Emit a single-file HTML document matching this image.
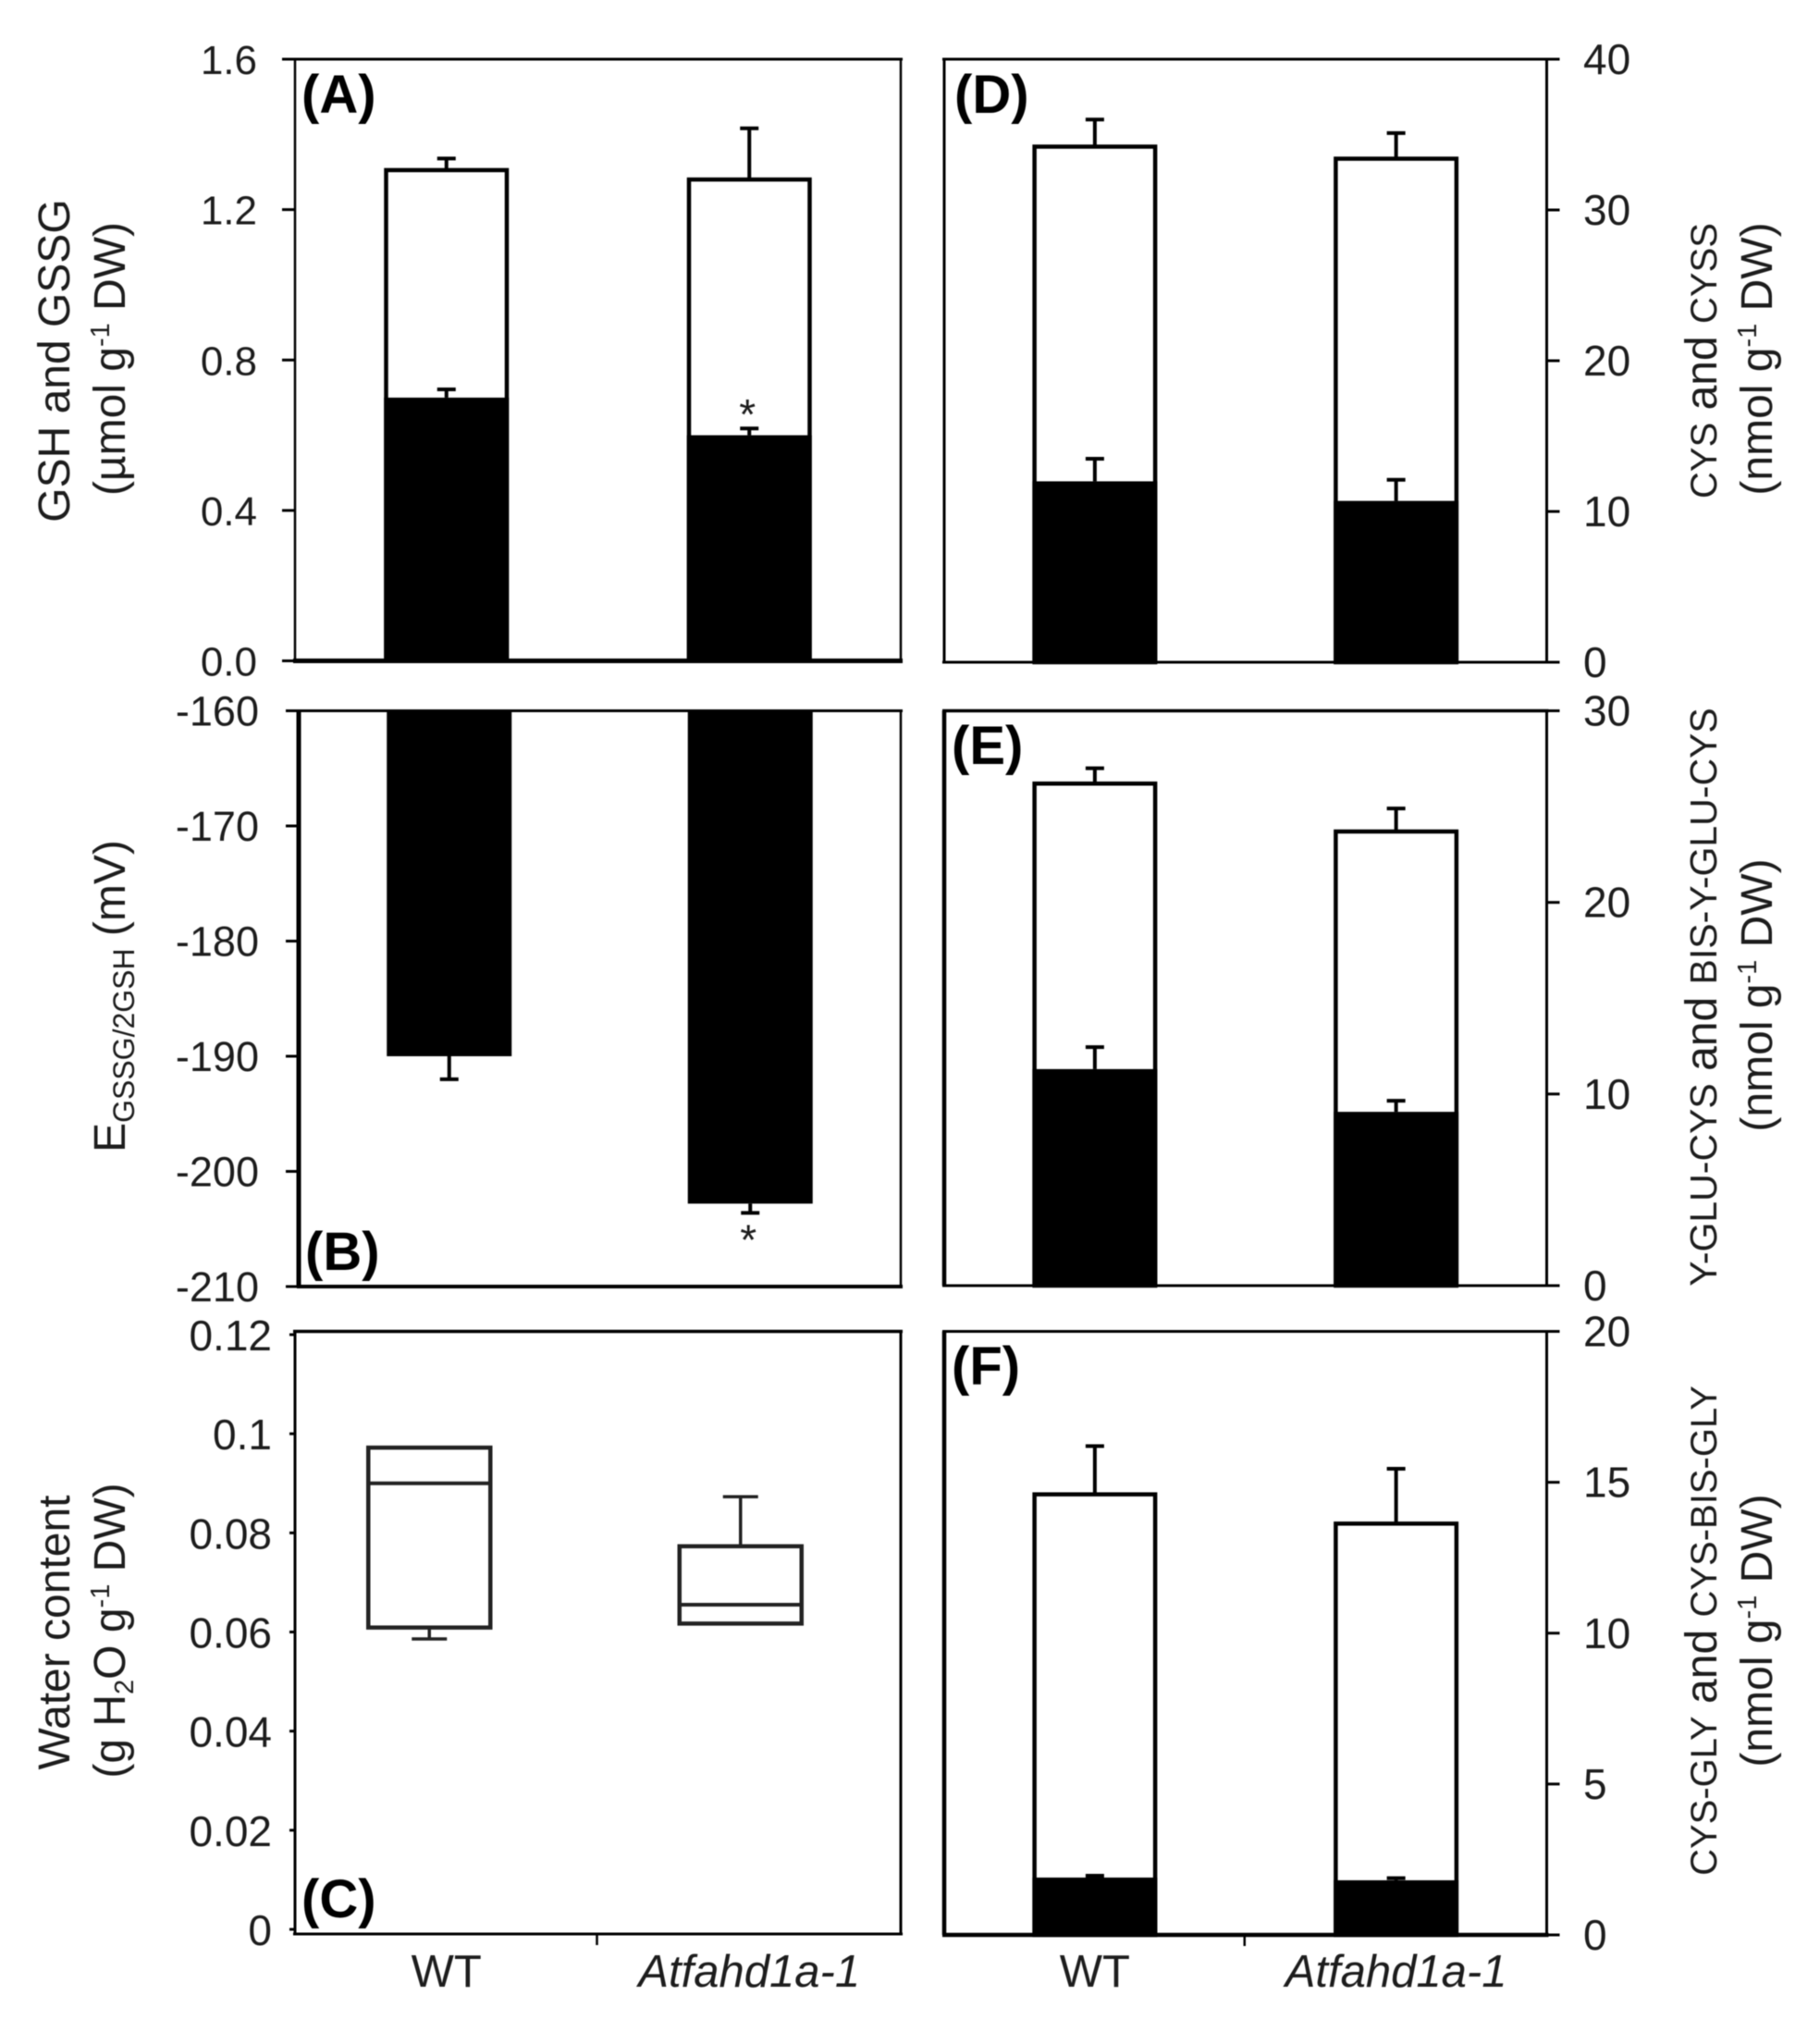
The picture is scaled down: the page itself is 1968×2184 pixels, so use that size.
<!DOCTYPE html>
<html lang="en">
<head>
<meta charset="utf-8">
<title>Thiol metabolites and water content in WT and Atfahd1a-1</title>
<style>
  html, body { margin: 0; padding: 0; background: #fff; }
  body { width: 1968px; height: 2184px; overflow: hidden; }
  svg { display: block; filter: blur(0.6px); }
  text { font-family: "Liberation Sans", sans-serif; fill: #1c1c1c; }
  .title { font-size: 48px; text-anchor: middle; }
  .letter { font-size: 58px; font-weight: bold; fill: #000; }
</style>
</head>
<body>
<svg id="figure" xmlns="http://www.w3.org/2000/svg" width="1968" height="2184" viewBox="0 0 1968 2184">
  <rect x="0" y="0" width="1968" height="2184" fill="#fff"/>
  <g id="panel-a"></g>
  <g id="panel-b"></g>
  <g id="panel-c"></g>
  <g id="panel-d"></g>
  <g id="panel-e"></g>
  <g id="panel-f"></g>

  <text class="letter" x="326" y="122">(A)</text>
  <text class="letter" x="330" y="1373">(B)</text>
  <text class="letter" x="326" y="2073">(C)</text>
  <text class="letter" x="1032" y="122">(D)</text>
  <text class="letter" x="1029" y="826">(E)</text>
  <text class="letter" x="1029" y="1497">(F)</text>

  <text class="title" transform="translate(75,390) rotate(-90)">GSH and GSSG</text>
  <text class="title" transform="translate(135,388) rotate(-90)">(µmol g<tspan font-size="29" dy="-17">-1</tspan><tspan dy="17"> DW)</tspan></text>
  <text class="title" transform="translate(135,1077) rotate(-90)">E<tspan font-size="32" dy="10">GSSG/2GSH</tspan><tspan dy="-10"> (mV)</tspan></text>
  <text class="title" transform="translate(75,1765) rotate(-90)">Water content</text>
  <text class="title" transform="translate(135,1763) rotate(-90)">(g H<tspan font-size="29" dy="9">2</tspan><tspan dy="-9">O g</tspan><tspan font-size="29" dy="-17">-1</tspan><tspan dy="17"> DW)</tspan></text>

  <text class="title" transform="translate(1856,390) rotate(-90)"><tspan font-size="40">CYS</tspan> and <tspan font-size="40">CYSS</tspan></text>
  <text class="title" transform="translate(1916,388) rotate(-90)">(nmol g<tspan font-size="29" dy="-17">-1</tspan><tspan dy="17"> DW)</tspan></text>
  <text class="title" transform="translate(1856,1078) rotate(-90)"><tspan font-size="41">Y-GLU-CYS</tspan> and <tspan font-size="41">BIS-Y-GLU-CYS</tspan></text>
  <text class="title" transform="translate(1916,1076) rotate(-90)">(nmol g<tspan font-size="29" dy="-17">-1</tspan><tspan dy="17"> DW)</tspan></text>
  <text class="title" transform="translate(1856,1763) rotate(-90)"><tspan font-size="40">CYS-GLY</tspan> and <tspan font-size="40">CYS-BIS-GLY</tspan></text>
  <text class="title" transform="translate(1916,1763) rotate(-90)">(nmol g<tspan font-size="29" dy="-17">-1</tspan><tspan dy="17"> DW)</tspan></text>
</svg>

<script>
// ---- Data ----
const categories = ['WT', 'Atfahd1a-1'];

const panelATicks = [0, 0.4, 0.8, 1.2, 1.6];
const panelATickLabels = ['0.0', '0.4', '0.8', '1.2', '1.6'];
const panelABlack = [0.70, 0.60];
const panelABlackErr = [0.022, 0.018];
const panelATotal = [1.305, 1.28];
const panelATotalErr = [0.031, 0.136];

const panelBTicks = [-160, -170, -180, -190, -200, -210];
const panelBTickLabels = ['-160', '-170', '-180', '-190', '-200', '-210'];
const panelBValues = [-190, -202.8];
const panelBErr = [2, 0.8];

const panelCTicks = [0, 0.02, 0.04, 0.06, 0.08, 0.1, 0.12];
const panelCTickLabels = ['0', '0.02', '0.04', '0.06', '0.08', '0.1', '0.12'];
const panelCBoxLow = [0.0609, 0.0617];
const panelCBoxMedian = [0.090, 0.0655];
const panelCBoxHigh = [0.0972, 0.0773];
const panelCWhiskerLow = [0.0586, 0.0617];
const panelCWhiskerHigh = [0.0972, 0.0873];

const panelDTicks = [0, 10, 20, 30, 40];
const panelDTickLabels = ['0', '10', '20', '30', '40'];
const panelDBlack = [12.0, 10.7];
const panelDBlackErr = [1.5, 1.4];
const panelDTotal = [34.2, 33.4];
const panelDTotalErr = [1.8, 1.7];

const panelETicks = [0, 10, 20, 30];
const panelETickLabels = ['0', '10', '20', '30'];
const panelEBlack = [11.3, 9.07];
const panelEBlackErr = [1.15, 0.58];
const panelETotal = [26.2, 23.7];
const panelETotalErr = [0.8, 1.2];

const panelFTicks = [0, 5, 10, 15, 20];
const panelFTickLabels = ['0', '5', '10', '15', '20'];
const panelFBlack = [1.9, 1.81];
const panelFBlackErr = [0.06, 0.07];
const panelFTotal = [14.6, 13.63];
const panelFTotalErr = [1.6, 1.82];

// ---- Layout ----
const NS = 'http://www.w3.org/2000/svg';
const BAR_WIDTH = 135;
const OUTLINE = 4.5;
const CAP = 10;
const INK = '#000';

function node(tag, attrs, parent) {
  const el = document.createElementNS(NS, tag);
  for (const k in attrs) el.setAttribute(k, attrs[k]);
  parent.appendChild(el);
  return el;
}
function scaleY(p) {
  return v => p.pxAtV0 + (v - p.v0) * (p.pxAtV1 - p.pxAtV0) / (p.v1 - p.v0);
}
function scaleX(p) {
  return i => p.left + (i + 0.5) * (p.right - p.left) / categories.length;
}
function drawFrame(p) {
  const g = document.getElementById(p.id);
  const w = p.widths;
  const sides = [
    ['frame-top', p.left - 2, p.top, p.right + 2, p.top, w[0]],
    ['frame-right', p.right, p.top, p.right, p.bottom, w[1]],
    ['frame-bottom', p.left - 2, p.bottom, p.right + 2, p.bottom, w[2]],
    ['frame-left', p.left, p.top, p.left, p.bottom, w[3]]
  ];
  sides.forEach(s => {
    const l = node('line', { x1: s[1], y1: s[2], x2: s[3], y2: s[4], stroke: INK, 'stroke-width': s[5] }, g);
    
    
  });
}
function drawYAxis(p, ticks, labels) {
  const g = document.getElementById(p.id);
  const y = scaleY(p);
  ticks.forEach((t, i) => {
    const axisX = p.side === 'left' ? p.left : p.right;
    const endX = p.side === 'left' ? p.left - p.tickLen : p.right + p.tickLen;
    const tick = node('line', { x1: axisX, y1: y(t), x2: endX, y2: y(t), stroke: INK, 'stroke-width': 3 }, g);
    
    
    const label = node('text', {
      x: p.labelX, y: y(t) + p.labelDy,
      'text-anchor': p.side === 'left' ? 'end' : 'start',
      'font-size': p.labelSize
    }, g);
    
    
    label.textContent = labels[i];
  });
}
function drawXAxis(p) {
  const g = document.getElementById(p.id);
  const x = scaleX(p);
  const mid = (p.left + p.right) / 2;
  const tick = node('line', { x1: mid - 1, y1: p.bottom, x2: mid - 1, y2: p.bottom + 12, stroke: INK, 'stroke-width': 2.5 }, g);
  
  
  categories.forEach((c, i) => {
    const t = node('text', {
      x: x(i), y: 2148, 'text-anchor': 'middle', 'font-size': 49,
      'font-style': i === 1 ? 'italic' : 'normal'
    }, g);
    
    
    t.textContent = c;
  });
}
function drawErrorBar(g, cx, yFrom, yTo, width, name) {
  const stem = node('line', { x1: cx, y1: yFrom, x2: cx, y2: yTo, stroke: INK, 'stroke-width': width }, g);
  
  
  const cap = node('line', { x1: cx - CAP, y1: yTo, x2: cx + CAP, y2: yTo, stroke: INK, 'stroke-width': width }, g);
  
  
}
function drawStack(p, black, blackErr, total, totalErr) {
  const g = document.getElementById(p.id);
  const x = scaleX(p);
  const y = scaleY(p);
  categories.forEach((c, i) => {
    const cx = x(i);
    const key = i === 0 ? 'wt' : 'mutant';
    drawErrorBar(g, cx, y(total[i]), y(total[i] + totalErr[i]), 4, 'total-error-' + key);
    const outer = node('rect', {
      x: cx - BAR_WIDTH / 2 + OUTLINE / 2, y: y(total[i]),
      width: BAR_WIDTH - OUTLINE, height: y(0) - y(total[i]),
      fill: '#fff', stroke: INK, 'stroke-width': OUTLINE
    }, g);
    
    
    drawErrorBar(g, cx, y(black[i]), y(black[i] + blackErr[i]), 4, 'black-error-' + key);
    const solid = node('rect', {
      x: cx - BAR_WIDTH / 2, y: y(black[i]),
      width: BAR_WIDTH, height: y(0) - y(black[i]), fill: INK
    }, g);
    
    
  });
}
function drawHanging(p, values, err) {
  const g = document.getElementById(p.id);
  const x = scaleX(p);
  const y = scaleY(p);
  categories.forEach((c, i) => {
    const cx = x(i);
    const key = i === 0 ? 'wt' : 'mutant';
    drawErrorBar(g, cx, y(values[i]), y(values[i] - err[i]), 4, 'redox-error-' + key);
    const bar = node('rect', {
      x: cx - BAR_WIDTH / 2, y: y(p.v0), width: BAR_WIDTH, height: y(values[i]) - y(p.v0), fill: INK
    }, g);
    
    
  });
}
function drawBoxes(p, low, median, high, wLow, wHigh) {
  const g = document.getElementById(p.id);
  const x = scaleX(p);
  const y = scaleY(p);
  categories.forEach((c, i) => {
    const cx = x(i) + p.boxShift[i];
    const key = i === 0 ? 'wt' : 'mutant';
    ['low', 'high'].forEach(end => {
      const from = end === 'low' ? low[i] : high[i];
      const to = end === 'low' ? wLow[i] : wHigh[i];
      if (from === to) return;
      const stem = node('line', { x1: cx, y1: y(from), x2: cx, y2: y(to), stroke: '#222', 'stroke-width': 3.5 }, g);
      
      
      const cap = node('line', { x1: cx - 19, y1: y(to), x2: cx + 19, y2: y(to), stroke: '#222', 'stroke-width': 3.5 }, g);
      
      
    });
    const box = node('rect', {
      x: cx - 66, y: y(high[i]), width: 132, height: y(low[i]) - y(high[i]),
      fill: '#fff', stroke: '#222', 'stroke-width': 4.5
    }, g);
    
    
    const med = node('line', { x1: cx - 66, y1: y(median[i]), x2: cx + 66, y2: y(median[i]), stroke: '#222', 'stroke-width': 4 }, g);
    
    
  });
}
function drawStar(p, i, value, dy) {
  const g = document.getElementById(p.id);
  const x = scaleX(p);
  const y = scaleY(p);
  const s = node('text', { x: x(i) - 2, y: y(value) + dy, 'text-anchor': 'middle', 'font-size': 46 }, g);
  
  
  s.textContent = '*';
}

// ---- Panels ----
const leftCommon = { side: 'left', left: 319, right: 974, tickLen: 14 };
const rightCommon = { side: 'right', left: 1021, right: 1672.5, tickLen: 14, labelX: 1712, labelDy: 16, labelSize: 46 };

const pA = Object.assign({}, leftCommon, { id: 'panel-a', top: 64, bottom: 714.5, v0: 0, v1: 1.6, pxAtV0: 714.5, pxAtV1: 64, widths: [3, 2.5, 5, 2.5], labelX: 278, labelDy: 16, labelSize: 44 });
const pB = Object.assign({}, leftCommon, { id: 'panel-b', left: 323, top: 768.5, bottom: 1391, v0: -160, v1: -210, pxAtV0: 768.5, pxAtV1: 1391, widths: [3, 2.5, 4, 5], labelX: 280, labelDy: 16, labelSize: 45 });
const pC = Object.assign({}, leftCommon, { id: 'panel-c', top: 1439.5, bottom: 2091, v0: 0, v1: 0.12, pxAtV0: 2086, pxAtV1: 1443, widths: [3.5, 3, 3, 3], tickLen: 6, labelX: 294, labelDy: 17, labelSize: 46, boxShift: [-18.5, -9.5] });
const pD = Object.assign({}, rightCommon, { id: 'panel-d', top: 64, bottom: 716, v0: 0, v1: 40, pxAtV0: 716, pxAtV1: 64, widths: [3, 3, 3, 3] });
const pE = Object.assign({}, rightCommon, { id: 'panel-e', top: 768.5, bottom: 1390, v0: 0, v1: 30, pxAtV0: 1390, pxAtV1: 768.5, widths: [3.5, 3, 3, 4.5] });
const pF = Object.assign({}, rightCommon, { id: 'panel-f', top: 1439.5, bottom: 2092, v0: 0, v1: 20, pxAtV0: 2092, pxAtV1: 1439.5, widths: [3, 3, 4.5, 4.5] });

drawStack(pA, panelABlack, panelABlackErr, panelATotal, panelATotalErr);
drawStar(pA, 1, panelABlack[1] + panelABlackErr[1], 1);
drawFrame(pA);
drawYAxis(pA, panelATicks, panelATickLabels);

drawHanging(pB, panelBValues, panelBErr);
drawStar(pB, 1, panelBValues[1] - panelBErr[1], 45);
drawFrame(pB);
drawYAxis(pB, panelBTicks, panelBTickLabels);

drawBoxes(pC, panelCBoxLow, panelCBoxMedian, panelCBoxHigh, panelCWhiskerLow, panelCWhiskerHigh);
drawFrame(pC);
drawYAxis(pC, panelCTicks, panelCTickLabels);
drawXAxis(pC);

drawStack(pD, panelDBlack, panelDBlackErr, panelDTotal, panelDTotalErr);
drawFrame(pD);
drawYAxis(pD, panelDTicks, panelDTickLabels);

drawStack(pE, panelEBlack, panelEBlackErr, panelETotal, panelETotalErr);
drawFrame(pE);
drawYAxis(pE, panelETicks, panelETickLabels);

drawStack(pF, panelFBlack, panelFBlackErr, panelFTotal, panelFTotalErr);
drawFrame(pF);
drawYAxis(pF, panelFTicks, panelFTickLabels);
drawXAxis(pF);
</script>
</body>
</html>
